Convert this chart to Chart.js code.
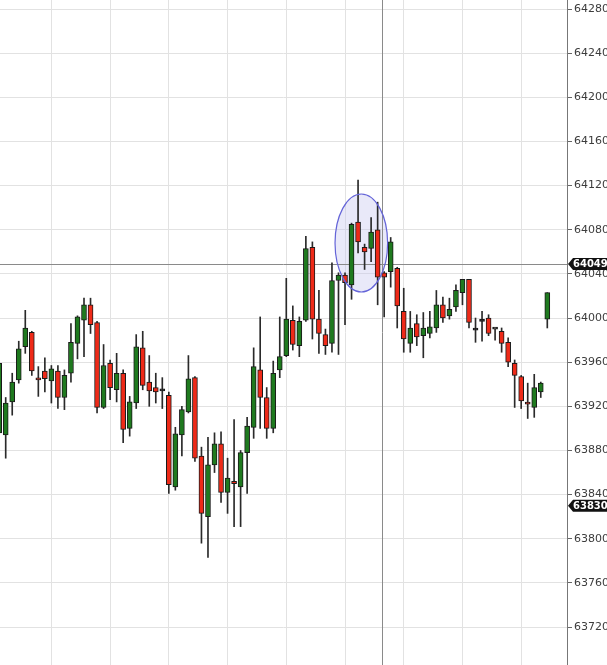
<!DOCTYPE html>
<html>
<head>
<meta charset="utf-8">
<script src="https://cdn.jsdelivr.net/npm/chart.js@4.4.1/dist/chart.umd.min.js"></script>
<style>
  html, body { margin: 0; padding: 0; background: #fff; }
  #contenedor { width: 607px; height: 665px; }
</style>
</head>
<body>
<div id="contenedor"><canvas id="grafica"></canvas></div>
<script>
// velas (apertura, maximo, minimo, cierre)
const aperturas = [63896, 63894, 63924, 63944, 63974, 63987, 63945, 63952, 63943, 63952,
  63928, 63950, 63977, 63998, 64012, 63996, 63919, 63959, 63935, 63950,
  63900, 63923, 63973, 63942, 63937, 63934, 63930, 63847, 63894, 63915,
  63946, 63875, 63820, 63867, 63886, 63842, 63852, 63847, 63878, 63901,
  63953, 63928, 63900, 63953, 63966, 63998, 63975, 63998, 64064, 63999,
  63985, 63977, 64034, 64039, 64030, 64087, 64064, 64063, 64080, 64041,
  64042, 64045, 64006, 63977, 63995, 63984, 63986, 63991, 64012, 64002,
  64010, 64023, 64035, 63989, 63997, 64000, 63990, 63988, 63978, 63959,
  63947, 63923, 63919, 63933, 63999];
const maximos = [63962, 63928, 63950, 63979, 64007, 63988, 63956, 63964, 63957, 63957,
  63953, 63995, 64002, 64018, 64018, 63997, 63976, 63962, 63968, 63953,
  63929, 63985, 63988, 63966, 63950, 63946, 63933, 63901, 63920, 63966,
  63947, 63883, 63892, 63896, 63897, 63873, 63908, 63880, 63910, 63973,
  64001, 63937, 63961, 64001, 64036, 64011, 64001, 64074, 64069, 64025,
  63990, 64050, 64041, 64041, 64086, 64125, 64067, 64091, 64105, 64042,
  64073, 64046, 64027, 64006, 64003, 64005, 64006, 64025, 64019, 64018,
  64030, 64035, 64035, 64000, 64006, 64003, 63990, 63991, 63982, 63962,
  63948, 63941, 63949, 63942, 64023];
const minimos = [63894, 63873, 63912, 63941, 63968, 63948, 63929, 63933, 63923, 63918,
  63917, 63942, 63963, 63965, 63986, 63914, 63918, 63926, 63924, 63887,
  63893, 63918, 63935, 63920, 63923, 63918, 63841, 63844, 63875, 63914,
  63870, 63796, 63783, 63860, 63833, 63823, 63811, 63811, 63841, 63891,
  63900, 63891, 63896, 63946, 63965, 63971, 63965, 63997, 63981, 63968,
  63967, 63969, 63967, 63994, 64017, 64059, 64044, 64051, 64012, 64001,
  64028, 63991, 63969, 63969, 63975, 63964, 63982, 63987, 63996, 63999,
  64006, 64012, 63991, 63978, 63979, 63984, 63980, 63969, 63956, 63919,
  63918, 63909, 63910, 63928, 63991];
const cierres = [63959, 63923, 63942, 63972, 63991, 63952, 63944, 63945, 63954, 63928,
  63948, 63978, 64001, 64012, 63994, 63919, 63957, 63937, 63950, 63899,
  63924, 63974, 63939, 63934, 63933, 63934, 63849, 63895, 63917, 63945,
  63873, 63823, 63867, 63886, 63842, 63855, 63850, 63878, 63902, 63956,
  63928, 63900, 63950, 63965, 63999, 63976, 63997, 64063, 63999, 63986,
  63975, 64034, 64039, 64032, 64085, 64069, 64060, 64078, 64037, 64037,
  64069, 64011, 63981, 63991, 63983, 63991, 63992, 64012, 64000, 64008,
  64025, 64035, 63996, 63989, 63997, 63986, 63990, 63977, 63960, 63948,
  63925, 63922, 63937, 63941, 64023];

const preciosEje = [63720, 63760, 63800, 63840, 63880, 63920, 63960, 64000,
  64040, 64080, 64120, 64160, 64200, 64240, 64280];
const velasRejilla = [8, 17, 26, 35, 44, 53, 62, 71, 80];

const precioCruz = 64049;
const velaCruz = 58.6;
const ultimoPrecio = 63830;
// circulo marcado sobre el maximo
const circulo = { vela: 55.5, precio: 64068, radioVelas: 4.03, radioPrecio: 44.4 };

const colorSube = "#1f7a1f";
const colorBaja = "#ee2a18";

const cuerpos = aperturas.map((o, i) => ({ x: i, y: [o, cierres[i]] }));
const mechas = aperturas.map((o, i) => ({ x: i, y: [minimos[i], maximos[i]] }));
const coloresCuerpo = aperturas.map((o, i) =>
  cierres[i] > o ? colorSube : cierres[i] < o ? colorBaja : "#222");

const dibujos = {
  id: "dibujos",
  beforeDatasetsDraw(chart) {
    const { ctx, chartArea, scales: { x, y } } = chart;
    ctx.save();
    // relleno del circulo
    const cx = x.getPixelForValue(circulo.vela);
    const cy = y.getPixelForValue(circulo.precio);
    const rx = x.getPixelForValue(circulo.vela + circulo.radioVelas) - cx;
    const ry = cy - y.getPixelForValue(circulo.precio + circulo.radioPrecio);
    ctx.beginPath();
    ctx.ellipse(cx, cy, rx, ry, 0, 0, Math.PI * 2);
    ctx.fillStyle = "rgba(200,200,240,0.4)";
    ctx.fill();
    // lineas de la cruz
    ctx.strokeStyle = "#8a8a8a";
    ctx.lineWidth = 1;
    const py = Math.round(y.getPixelForValue(precioCruz)) + 0.5;
    const px = Math.round(x.getPixelForValue(velaCruz)) + 0.5;
    ctx.beginPath();
    ctx.moveTo(chartArea.left, py);
    ctx.lineTo(chartArea.right, py);
    ctx.moveTo(px, chartArea.top);
    ctx.lineTo(px, chartArea.bottom);
    ctx.stroke();
    ctx.restore();
  },
  afterDatasetsDraw(chart) {
    const { ctx, scales: { x, y } } = chart;
    const cx = x.getPixelForValue(circulo.vela);
    const cy = y.getPixelForValue(circulo.precio);
    const rx = x.getPixelForValue(circulo.vela + circulo.radioVelas) - cx;
    const ry = cy - y.getPixelForValue(circulo.precio + circulo.radioPrecio);
    ctx.save();
    ctx.beginPath();
    ctx.ellipse(cx, cy, rx, ry, 0, 0, Math.PI * 2);
    ctx.strokeStyle = "#6464d8";
    ctx.lineWidth = 1.2;
    ctx.stroke();
    ctx.restore();
  },
  afterDraw(chart) {
    const { ctx, chartArea, scales: { y } } = chart;
    const etiqueta = (precio) => {
      const cy = y.getPixelForValue(precio);
      const x0 = chartArea.right + 1;
      ctx.beginPath();
      ctx.moveTo(x0, cy);
      ctx.lineTo(x0 + 5, cy - 6);
      ctx.lineTo(chart.width, cy - 6);
      ctx.lineTo(chart.width, cy + 6);
      ctx.lineTo(x0 + 5, cy + 6);
      ctx.closePath();
      ctx.fillStyle = "#111";
      ctx.fill();
      ctx.fillStyle = "#fff";
      ctx.font = "bold 10px 'DejaVu Sans', sans-serif";
      ctx.textBaseline = "middle";
      ctx.textAlign = "left";
      ctx.fillText(String(precio), x0 + 5, cy + 0.5);
    };
    ctx.save();
    etiqueta(precioCruz);
    etiqueta(ultimoPrecio);
    ctx.restore();
  }
};

const config = {
  type: "bar",
  data: {
    datasets: [
      {
        label: "Cuerpo",
        data: cuerpos,
        backgroundColor: coloresCuerpo,
        borderColor: "#1a1a1a",
        borderWidth: 1,
        borderSkipped: false,
        barThickness: 5,
        minBarLength: 2,
        grouped: false,
        order: 0
      },
      {
        label: "Mecha",
        data: mechas,
        backgroundColor: "#2a2a2a",
        borderWidth: 0,
        barThickness: 1,
        grouped: false,
        order: 1
      }
    ]
  },
  options: {
    animation: false,
    responsive: true,
    maintainAspectRatio: false,
    layout: { padding: 0 },
    plugins: { legend: { display: false }, tooltip: { enabled: false } },
    scales: {
      x: {
        type: "linear",
        min: 0.126,
        max: 87.02,
        offset: false,
        afterBuildTicks: (s) => { s.ticks = velasRejilla.map((v) => ({ value: v })); },
        afterFit: (s) => { s.height = 0; s.paddingLeft = 0; s.paddingRight = 0; },
        ticks: { display: false },
        border: { display: false },
        grid: { color: "#e2e2e2", drawTicks: false, offset: false }
      },
      y: {
        position: "right",
        min: 63685.6,
        max: 64288.2,
        afterBuildTicks: (s) => { s.ticks = preciosEje.map((v) => ({ value: v })); },
        afterFit: (s) => { s.width = 40; s.paddingTop = 0; s.paddingBottom = 0; },
        ticks: {
          color: "#3c3c3c",
          font: { family: "'DejaVu Sans', sans-serif", size: 11 },
          padding: 2,
          autoSkip: false,
          callback: (v) => String(v)
        },
        grid: { color: "#e2e2e2", tickColor: "#666", tickLength: 5 },
        border: { display: true, color: "#777" }
      }
    }
  },
  plugins: [dibujos]
};

new Chart(document.getElementById("grafica"), config);
</script>
</body>
</html>
